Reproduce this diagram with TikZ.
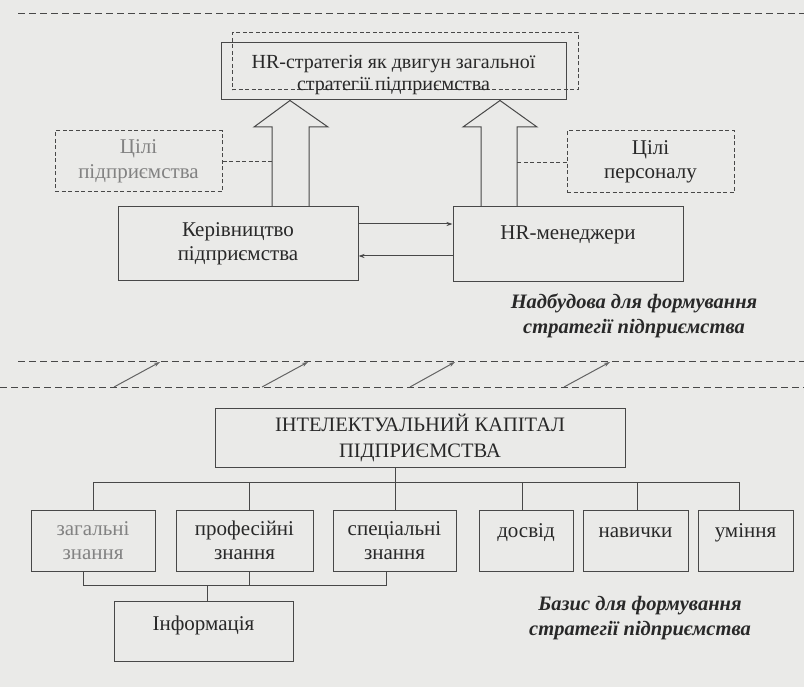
\documentclass[tikz,border=0pt]{standalone}
\usepackage{fontspec}
\setmainfont{Liberation Serif}
\usetikzlibrary{arrows.meta,calc}
\definecolor{bg}{RGB}{234,234,232}
\definecolor{linec}{RGB}{72,72,72}
\definecolor{txt}{RGB}{40,40,40}
\definecolor{faded}{RGB}{130,130,130}
\begin{document}
\begin{tikzpicture}[x=1pt,y=-1pt,
  line/.style={draw=linec, line width=1pt},
  box/.style={line, text=txt, align=center, inner sep=0pt, font=\fontsize{21}{24.5}\selectfont},
  dbox/.style={box, dash pattern=on 4pt off 2.5pt},
  dline/.style={line, dash pattern=on 4pt off 2.5pt},
  sep/.style={draw=linec, line width=1pt, dash pattern=on 7pt off 4pt},
  tip/.style={-{Stealth[length=6pt,width=4pt]}},
  lbl/.style={text=txt, align=center, font=\fontsize{20.5}{25}\selectfont\bfseries\itshape}]
\fill[bg] (0,0) rectangle (804,687);
\useasboundingbox (0,0) rectangle (804,687);

% separators
\coordinate (s1a) at (18,14);  \coordinate (s1b) at (804,14);
\coordinate (s2a) at (18,362); \coordinate (s2b) at (804,362);
\coordinate (s3a) at (0,387);  \coordinate (s3b) at (804,387);
\draw[sep] (s1a) -- (s1b);
\draw[sep] (s2a) -- (s2b);
\draw[sep] (s3a) -- (s3b);

% top part
\node[dbox, minimum width=346pt, minimum height=57pt] (hrd) at (405,61.5) {};
\node[box, minimum width=345pt, minimum height=57pt,
  label={[text=txt, align=center, font=\fontsize{20}{22}\selectfont, yshift=-4pt]center:HR-стратегія як двигун загальної\\стратегії підприємства}]
  (hr) at (393.5,71.5) {};
\node[dbox, text=faded, minimum width=167pt, minimum height=61pt] (goalsL) at (138.5,161.5)
  {Цілі\\підприємства};
\node[dbox, minimum width=167pt, minimum height=62pt] (goalsR) at (650.5,162)
  {Цілі\\персоналу};
\node[box, minimum width=240pt, minimum height=74pt] (mgmt) at (238,244)
  {Керівництво\\підприємства};
\node[box, minimum width=230pt, minimum height=75pt] (hrm) at (568,244.5)
  {\raisebox{28pt}{\strut HR-менеджери}};

% hollow arrows
\draw[line, line join=miter] (272,0 |- mgmt.north) -- (272,127) -- (254,127) -- (290,0 |- hr.south)
  -- (328,127) -- (309,127) -- (309,0 |- mgmt.north);
\draw[line, line join=miter] (481,0 |- hrm.north) -- (481,127) -- (463,127) -- (500,0 |- hr.south)
  -- (537,127) -- (517,127) -- (517,0 |- hrm.north);

% dotted links to goals
\draw[dline] (goalsL.east |- 0,162) -- (272,162);
\draw[dline] (goalsR.west |- 0,163) -- (517,163);

% management <-> HR managers
\draw[line, tip] (mgmt.east |- 0,224) -- (hrm.west |- 0,224);
\draw[line, tip] (hrm.west |- 0,256) -- (mgmt.east |- 0,256);

\node[lbl] (lab1) at (634,316) {Надбудова для формування\\стратегії підприємства};

% diagonal arrows between separators
\foreach \i/\a/\b in {1/114/160, 2/262/308, 3/410/455, 4/564/610}{
  \coordinate (da\i) at (\a,387);
  \coordinate (db\i) at (\b,362);
  \draw[draw=linec!85, line width=1pt, tip] (da\i) -- (db\i);
}

% base part
\node[box, font=\fontsize{20.5}{26}\selectfont, minimum width=410pt, minimum height=59pt] (ic) at (420,437.5)
  {ІНТЕЛЕКТУАЛЬНИЙ КАПІТАЛ\\ПІДПРИЄМСТВА};
\node[box, text=faded, minimum width=124pt, minimum height=61pt] (zag) at (93,540.5) {загальні\\знання};
\node[box, minimum width=137pt, minimum height=61pt] (prof) at (244.5,540.5) {професійні\\знання};
\node[box, minimum width=123pt, minimum height=61pt] (spec) at (394.5,540.5) {спеціальні\\знання};
\node[box, minimum width=94pt, minimum height=61pt] (dosv) at (526,540.5) {\raisebox{24pt}{\strut досвід}};
\node[box, minimum width=105pt, minimum height=61pt] (navy) at (635.5,540.5) {\raisebox{24pt}{\strut навички}};
\node[box, minimum width=95pt, minimum height=61pt] (umin) at (745.5,540.5) {\raisebox{24pt}{\strut уміння}};
\node[box, minimum width=179pt, minimum height=60pt] (info) at (203.5,631) {\raisebox{18pt}{\strut Інформація}};

% upper bus
\draw[line] (395,0 |- ic.south) -- (395,0 |- spec.north);
\draw[line] (93,0 |- zag.north) -- (93,482) -- (739,482) -- (739,0 |- umin.north);
\draw[line] (249,482) -- (249,0 |- prof.north);
\draw[line] (522,482) -- (522,0 |- dosv.north);
\draw[line] (637,482) -- (637,0 |- navy.north);
% lower bus
\draw[line] (83,0 |- zag.south) -- (83,585) -- (386,585) -- (386,0 |- spec.south);
\draw[line] (249,0 |- prof.south) -- (249,585);
\draw[line] (207,585) -- (207,0 |- info.north);

\node[lbl] (lab2) at (640,618) {Базис для формування\\стратегії підприємства};
\end{tikzpicture}
\end{document}
